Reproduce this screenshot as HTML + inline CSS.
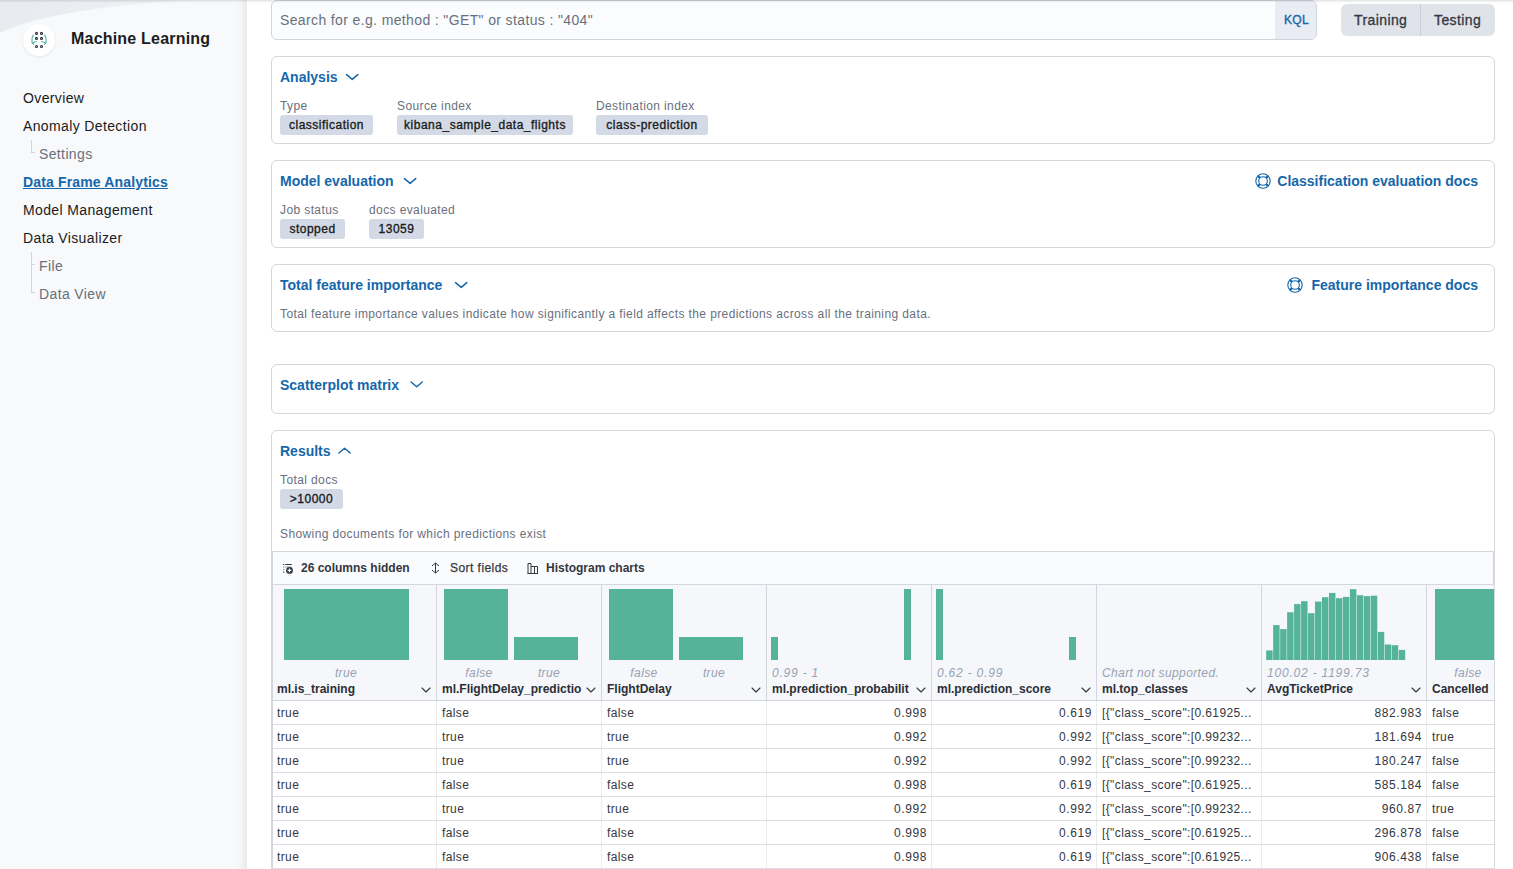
<!DOCTYPE html><html><head><meta charset="utf-8"><style>
*{box-sizing:border-box;margin:0;padding:0}
html,body{width:1513px;height:869px;overflow:hidden;background:#fff;font-family:"Liberation Sans",sans-serif;color:#343741}
.abs{position:absolute}
#side{position:absolute;left:0;top:0;width:247px;height:869px;background:#f8f9fb;overflow:hidden}
.nav{position:absolute;left:23px;font-size:14px;letter-spacing:.37px;color:#1a1c21;white-space:nowrap;line-height:16px}
.nav.sub{left:39px;color:#69707d}
.nav.sel{color:#1667aa;font-weight:700;text-decoration:underline;letter-spacing:.15px}
.tree{position:absolute;left:31px;width:4px;border-left:1px solid #d0d4db}
.panel{position:absolute;left:271px;width:1224px;border:1px solid #d3d7de;border-radius:6px;background:#fff}
.ptitle{position:absolute;left:280px;font-size:14px;font-weight:700;color:#1667aa;white-space:nowrap;line-height:16px}
.chev{position:absolute}
.lbl{position:absolute;font-size:12px;color:#69707d;white-space:nowrap;letter-spacing:.39px;line-height:14px}
.badge{position:absolute;height:20px;background:#d3dae6;border-radius:3px;font-size:12px;font-weight:400;color:#1a1c21;line-height:20px;padding:0;text-align:center;white-space:nowrap;letter-spacing:.5px;-webkit-text-stroke:.35px #1a1c21}
.doc{position:absolute;font-size:14px;font-weight:700;color:#1667aa;white-space:nowrap;line-height:16px}
.cell{position:absolute;font-size:12px;line-height:14px;white-space:nowrap;letter-spacing:.39px;color:#343741;overflow:hidden}
.hname{position:absolute;font-size:12px;line-height:14px;font-weight:700;white-space:nowrap;color:#2b2e36;overflow:hidden}
.hlab{position:absolute;font-size:12px;line-height:14px;font-style:italic;white-space:nowrap;color:#98a2b3;letter-spacing:.39px}
.vl{position:absolute;width:1px;background:#d3d6dd}
.hl{position:absolute;height:1px;background:#d3d6dd}
.bar{position:absolute;background:#54b399}
</style></head><body>
<div id="side">
<svg class="abs" style="left:0;top:0" width="247" height="40"><defs><linearGradient id="tg" x1="0" y1="0" x2="1" y2="0"><stop offset="0" stop-color="#e8eaf0"/><stop offset="1" stop-color="#f1f2f6"/></linearGradient></defs><path d="M0 0 H200 Q60 6 0 32.5 Z" fill="url(#tg)"/></svg>
<div class="abs" style="right:0;top:0;width:12px;height:869px;background:linear-gradient(to right,rgba(0,0,0,0),rgba(0,0,0,0.015) 50%,rgba(0,0,0,0.065))"></div>
<div class="abs" style="left:23px;top:24px;width:32px;height:32px;border-radius:50%;background:#fff;box-shadow:0 1px 3px rgba(0,0,0,.08)"></div>
<svg class="abs" style="left:27px;top:28px" width="24" height="24" viewBox="0 0 24 24"><g fill="#fff" stroke="#343741" stroke-width="1.1"><circle cx="9.5" cy="5.4" r="1"/><circle cx="14.5" cy="5.4" r="1"/><circle cx="9.5" cy="10.4" r="1"/><circle cx="14.5" cy="10.4" r="1"/><circle cx="9.5" cy="18.5" r="1"/><circle cx="14.5" cy="18.5" r="1"/></g><g fill="none" stroke="#4fb3a6" stroke-width="1.1" stroke-linecap="round"><path d="M6.5 7.3 Q5 8.5 5 11 L5 14.5 L6.5 16.4"/><path d="M5.5 14.8 Q7.5 14.5 9.3 13.4"/><path d="M17.5 7.3 Q19 8.5 19 11 L19 14.5 L17.5 16.4"/><path d="M18.5 14.8 Q16.5 14.5 14.7 13.4"/></g></svg>
<div class="abs" style="left:71px;top:30px;font-size:16px;font-weight:700;color:#1a1c21;white-space:nowrap;letter-spacing:.2px;line-height:18px">Machine Learning</div>
<div class="nav" style="top:90px">Overview</div>
<div class="nav" style="top:118px">Anomaly Detection</div>
<div class="tree" style="top:140px;height:13px;border-bottom:1px solid #d0d4db"></div>
<div class="nav sub" style="top:146px">Settings</div>
<div class="nav sel" style="top:174px">Data Frame Analytics</div>
<div class="nav" style="top:202px">Model Management</div>
<div class="nav" style="top:230px">Data Visualizer</div>
<div class="tree" style="top:252px;height:41px;border-bottom:1px solid #d0d4db"></div>
<div class="hl" style="left:32px;top:264px;width:3px"></div>
<div class="nav sub" style="top:258px">File</div>
<div class="nav sub" style="top:286px">Data View</div>
</div>
<div class="abs" style="left:0;top:0;width:1513px;height:3px;background:linear-gradient(rgba(20,25,40,.13),rgba(20,25,40,.03) 66%,rgba(20,25,40,0));z-index:5"></div>
<div class="abs" style="left:271px;top:0;width:1046px;height:40px;border:1px solid #d0d4dc;border-radius:6px;background:#fbfcfd;overflow:hidden"><div class="abs" style="right:0;top:0;width:41px;height:40px;background:#e9edf3"></div></div>
<div class="abs" style="left:280px;top:12px;font-size:14px;line-height:16px;letter-spacing:.37px;color:#69707d;white-space:nowrap">Search for e.g. method : "GET" or status : "404"</div>
<div class="abs" style="left:1284px;top:13px;font-size:12px;line-height:14px;font-weight:400;letter-spacing:.3px;color:#1667aa;-webkit-text-stroke:.4px #1667aa">KQL</div>
<div class="abs" style="left:1341px;top:4px;width:154px;height:32px;border-radius:6px;background:#e0e3e9"></div>
<div class="vl" style="left:1420px;top:4px;height:32px;background:#c9ced8"></div>
<div class="abs" style="left:1354px;top:12px;font-size:14px;line-height:16px;letter-spacing:.4px;color:#343741;-webkit-text-stroke:.3px #343741">Training</div>
<div class="abs" style="left:1434px;top:12px;font-size:14px;line-height:16px;letter-spacing:.4px;color:#343741;-webkit-text-stroke:.3px #343741">Testing</div>
<div class="panel" style="top:56px;height:88px"></div>
<div class="ptitle" style="top:69px">Analysis</div>
<svg class="chev" style="left:344px;top:72px" width="16" height="10"><path d="M2.60 2.60 L8.20 7.40 L13.80 2.60" fill="none" stroke="#1667aa" stroke-width="1.5" stroke-linecap="round" stroke-linejoin="round"/></svg>
<div class="lbl" style="left:280px;top:99px">Type</div>
<div class="lbl" style="left:397px;top:99px">Source index</div>
<div class="lbl" style="left:596px;top:99px">Destination index</div>
<div class="badge" style="left:280px;top:115px;width:93px">classification</div>
<div class="badge" style="left:397px;top:115px;width:176px">kibana_sample_data_flights</div>
<div class="badge" style="left:596px;top:115px;width:112px">class-prediction</div>
<div class="panel" style="top:160px;height:88px"></div>
<div class="ptitle" style="top:173px">Model evaluation</div>
<svg class="chev" style="left:402px;top:176px" width="16" height="10"><path d="M2.50 2.60 L8.10 7.40 L13.70 2.60" fill="none" stroke="#1667aa" stroke-width="1.5" stroke-linecap="round" stroke-linejoin="round"/></svg>
<svg class="abs" style="left:1255px;top:173px" width="16" height="16" viewBox="0 0 16 16"><circle cx="8" cy="8" r="7.2" fill="none" stroke="#1667aa" stroke-width="1.1"/><circle cx="8" cy="8" r="4.3" fill="none" stroke="#1667aa" stroke-width="1.1"/><path d="M5.00 5.00L2.70 2.70M5.00 11.00L2.70 13.30M11.00 5.00L13.30 2.70M11.00 11.00L13.30 13.30" stroke="#1667aa" stroke-width="2.3"/></svg>
<div class="doc" style="right:35px;top:173px">Classification evaluation docs</div>
<div class="lbl" style="left:280px;top:203px">Job status</div>
<div class="lbl" style="left:369px;top:203px">docs evaluated</div>
<div class="badge" style="left:280px;top:219px;width:65px">stopped</div>
<div class="badge" style="left:369px;top:219px;width:55px">13059</div>
<div class="panel" style="top:264px;height:68px"></div>
<div class="ptitle" style="top:277px">Total feature importance</div>
<svg class="chev" style="left:453px;top:280px" width="16" height="10"><path d="M2.60 2.60 L8.20 7.40 L13.80 2.60" fill="none" stroke="#1667aa" stroke-width="1.5" stroke-linecap="round" stroke-linejoin="round"/></svg>
<svg class="abs" style="left:1287px;top:277px" width="16" height="16" viewBox="0 0 16 16"><circle cx="8" cy="8" r="7.2" fill="none" stroke="#1667aa" stroke-width="1.1"/><circle cx="8" cy="8" r="4.3" fill="none" stroke="#1667aa" stroke-width="1.1"/><path d="M5.00 5.00L2.70 2.70M5.00 11.00L2.70 13.30M11.00 5.00L13.30 2.70M11.00 11.00L13.30 13.30" stroke="#1667aa" stroke-width="2.3"/></svg>
<div class="doc" style="right:35px;top:277px">Feature importance docs</div>
<div class="lbl" style="left:280px;top:307px">Total feature importance values indicate how significantly a field affects the predictions across all the training data.</div>
<div class="panel" style="top:364px;height:50px"></div>
<div class="ptitle" style="top:377px">Scatterplot matrix</div>
<svg class="chev" style="left:409px;top:380px" width="16" height="10"><path d="M2.10 2.00 L7.70 6.80 L13.30 2.00" fill="none" stroke="#1667aa" stroke-width="1.5" stroke-linecap="round" stroke-linejoin="round"/></svg>
<div class="panel" style="top:430px;height:460px"></div>
<div class="ptitle" style="top:443px">Results</div>
<svg class="chev" style="left:337px;top:446px" width="16" height="10"><path d="M2.00 7.00 L7.60 2.20 L13.20 7.00" fill="none" stroke="#1667aa" stroke-width="1.5" stroke-linecap="round" stroke-linejoin="round"/></svg>
<div class="lbl" style="left:280px;top:473px">Total docs</div>
<div class="badge" style="left:280px;top:489px;width:63px">&gt;10000</div>
<div class="lbl" style="left:280px;top:527px">Showing documents for which predictions exist</div>
<div class="abs" style="left:272px;top:551px;width:1222px;height:34px;background:#fafbfd;border-top:1px solid #d3d6dd;border-bottom:1px solid #d3d6dd;border-right:1px solid #d3d6dd"></div>
<div class="abs" style="left:272px;top:585px;width:1222px;height:115px;background:#f5f7fa"></div>
<div class="hl" style="left:272px;top:700px;width:1222px"></div>
<svg class="abs" style="left:282px;top:562px" width="12" height="13" viewBox="0 0 12 13"><g fill="#343741"><rect x="1" y="2" width="1.3" height="1"/><rect x="1" y="4.5" width="1.3" height="1" opacity=".6"/><rect x="1" y="7" width="1.3" height="1" opacity=".6"/><rect x="1" y="9.5" width="1.3" height="1"/><rect x="3.3" y="2" width="6.5" height="1"/><rect x="3.3" y="4.5" width="6.5" height="1" opacity=".45"/></g><circle cx="7.5" cy="8.4" r="3.4" fill="#343741"/><path d="M7.5 6.6v3.6M5.7 8.4h3.6" stroke="#fff" stroke-width="1.1"/></svg>
<div class="abs" style="left:301px;top:561px;font-size:12px;line-height:14px;font-weight:700;color:#343741;white-space:nowrap">26 columns hidden</div>
<svg class="abs" style="left:431px;top:562px" width="9" height="12" viewBox="0 0 9 12"><path d="M1 4 L4.5 1 L8 4 M1 8 L4.5 11 L8 8 M4.5 1 V11" fill="none" stroke="#343741" stroke-width="1"/></svg>
<div class="abs" style="left:450px;top:561px;font-size:12px;line-height:14px;letter-spacing:.45px;color:#343741;white-space:nowrap;-webkit-text-stroke:.25px #343741">Sort fields</div>
<svg class="abs" style="left:527px;top:562px" width="12" height="13" viewBox="0 0 12 13"><path d="M0.5 11.5 H11 M1 1.5 V11.5 M1 1.5 H4 V11.5 M4 4.5 H7.5 V11.5 M7.5 4.5 H10.5 V11.5" fill="none" stroke="#343741" stroke-width="1"/></svg>
<div class="abs" style="left:546px;top:561px;font-size:12px;line-height:14px;font-weight:700;color:#343741;white-space:nowrap">Histogram charts</div>
<div class="abs" style="left:272px;top:585px;width:1222px;height:284px;overflow:hidden">
<div class="vl" style="left:164px;top:116px;height:168px;background:#e9ebef"></div>
<div class="vl" style="left:164px;top:0;height:115px"></div>
<div class="bar" style="left:12.0px;top:4.0px;width:125.0px;height:71.0px"></div>
<div class="hlab" style="left:44px;width:60px;text-align:center;top:81px">true</div>
<div class="hname" style="left:5px;top:97px;width:150px">ml.is_training</div>
<svg class="chev" style="left:149px;top:102px" width="10" height="6" viewBox="0 0 10 6"><path d="M1 1 L5.0 5 L9 1" fill="none" stroke="#343741" stroke-width="1.1" stroke-linecap="round" stroke-linejoin="round"/></svg>
<div class="vl" style="left:329px;top:116px;height:168px;background:#e9ebef"></div>
<div class="vl" style="left:329px;top:0;height:115px"></div>
<div class="bar" style="left:172.0px;top:4.0px;width:63.5px;height:71.0px"></div>
<div class="bar" style="left:242.0px;top:52.0px;width:63.5px;height:23.0px"></div>
<div class="hlab" style="left:177px;width:60px;text-align:center;top:81px">false</div>
<div class="hlab" style="left:247px;width:60px;text-align:center;top:81px">true</div>
<div class="hname" style="left:170px;top:97px;width:150px">ml.FlightDelay_predictio</div>
<svg class="chev" style="left:314px;top:102px" width="10" height="6" viewBox="0 0 10 6"><path d="M1 1 L5.0 5 L9 1" fill="none" stroke="#343741" stroke-width="1.1" stroke-linecap="round" stroke-linejoin="round"/></svg>
<div class="vl" style="left:494px;top:116px;height:168px;background:#e9ebef"></div>
<div class="vl" style="left:494px;top:0;height:115px"></div>
<div class="bar" style="left:337.0px;top:4.0px;width:63.5px;height:71.0px"></div>
<div class="bar" style="left:407.0px;top:52.0px;width:63.5px;height:23.0px"></div>
<div class="hlab" style="left:342px;width:60px;text-align:center;top:81px">false</div>
<div class="hlab" style="left:412px;width:60px;text-align:center;top:81px">true</div>
<div class="hname" style="left:335px;top:97px;width:150px">FlightDelay</div>
<svg class="chev" style="left:479px;top:102px" width="10" height="6" viewBox="0 0 10 6"><path d="M1 1 L5.0 5 L9 1" fill="none" stroke="#343741" stroke-width="1.1" stroke-linecap="round" stroke-linejoin="round"/></svg>
<div class="vl" style="left:659px;top:116px;height:168px;background:#e9ebef"></div>
<div class="vl" style="left:659px;top:0;height:115px"></div>
<div class="bar" style="left:499.0px;top:52.0px;width:6.5px;height:23.0px"></div>
<div class="bar" style="left:632.0px;top:4.0px;width:6.5px;height:71.0px"></div>
<div class="hlab" style="left:500px;top:81px;letter-spacing:.8px">0.99 - 1</div>
<div class="hname" style="left:500px;top:97px;width:150px">ml.prediction_probabilit</div>
<svg class="chev" style="left:644px;top:102px" width="10" height="6" viewBox="0 0 10 6"><path d="M1 1 L5.0 5 L9 1" fill="none" stroke="#343741" stroke-width="1.1" stroke-linecap="round" stroke-linejoin="round"/></svg>
<div class="vl" style="left:824px;top:116px;height:168px;background:#e9ebef"></div>
<div class="vl" style="left:824px;top:0;height:115px"></div>
<div class="bar" style="left:664.0px;top:4.0px;width:6.5px;height:71.0px"></div>
<div class="bar" style="left:797.0px;top:52.0px;width:6.5px;height:23.0px"></div>
<div class="hlab" style="left:665px;top:81px;letter-spacing:.8px">0.62 - 0.99</div>
<div class="hname" style="left:665px;top:97px;width:150px">ml.prediction_score</div>
<svg class="chev" style="left:809px;top:102px" width="10" height="6" viewBox="0 0 10 6"><path d="M1 1 L5.0 5 L9 1" fill="none" stroke="#343741" stroke-width="1.1" stroke-linecap="round" stroke-linejoin="round"/></svg>
<div class="vl" style="left:989px;top:116px;height:168px;background:#e9ebef"></div>
<div class="vl" style="left:989px;top:0;height:115px"></div>
<div class="hlab" style="left:830px;top:81px;letter-spacing:.39px">Chart not supported.</div>
<div class="hname" style="left:830px;top:97px;width:150px">ml.top_classes</div>
<svg class="chev" style="left:974px;top:102px" width="10" height="6" viewBox="0 0 10 6"><path d="M1 1 L5.0 5 L9 1" fill="none" stroke="#343741" stroke-width="1.1" stroke-linecap="round" stroke-linejoin="round"/></svg>
<div class="vl" style="left:1154px;top:116px;height:168px;background:#e9ebef"></div>
<div class="vl" style="left:1154px;top:0;height:115px"></div>
<div class="hlab" style="left:995px;top:81px;letter-spacing:.8px">100.02 - 1199.73</div>
<svg class="abs" style="left:984px;top:0" width="150" height="80"><rect x="10.20" y="65.40" width="6.45" height="9.60" fill="#54b399"/><rect x="17.17" y="40.10" width="6.45" height="34.90" fill="#54b399"/><rect x="24.15" y="44.10" width="6.45" height="30.90" fill="#54b399"/><rect x="31.12" y="27.30" width="6.45" height="47.70" fill="#54b399"/><rect x="38.10" y="19.10" width="6.45" height="55.90" fill="#54b399"/><rect x="45.08" y="16.20" width="6.45" height="58.80" fill="#54b399"/><rect x="52.05" y="28.20" width="6.45" height="46.80" fill="#54b399"/><rect x="59.03" y="16.60" width="6.45" height="58.40" fill="#54b399"/><rect x="66.00" y="12.20" width="6.45" height="62.80" fill="#54b399"/><rect x="72.98" y="7.90" width="6.45" height="67.10" fill="#54b399"/><rect x="79.95" y="13.20" width="6.45" height="61.80" fill="#54b399"/><rect x="86.92" y="11.90" width="6.45" height="63.10" fill="#54b399"/><rect x="93.90" y="4.20" width="6.45" height="70.80" fill="#54b399"/><rect x="100.88" y="10.20" width="6.45" height="64.80" fill="#54b399"/><rect x="107.85" y="11.10" width="6.45" height="63.90" fill="#54b399"/><rect x="114.83" y="10.70" width="6.45" height="64.30" fill="#54b399"/><rect x="121.80" y="46.90" width="6.45" height="28.10" fill="#54b399"/><rect x="128.78" y="59.50" width="6.45" height="15.50" fill="#54b399"/><rect x="135.75" y="60.20" width="6.45" height="14.80" fill="#54b399"/><rect x="142.73" y="64.90" width="6.45" height="10.10" fill="#54b399"/></svg>
<div class="hname" style="left:995px;top:97px;width:150px">AvgTicketPrice</div>
<svg class="chev" style="left:1139px;top:102px" width="10" height="6" viewBox="0 0 10 6"><path d="M1 1 L5.0 5 L9 1" fill="none" stroke="#343741" stroke-width="1.1" stroke-linecap="round" stroke-linejoin="round"/></svg>
<div class="bar" style="left:1162.7px;top:4.0px;width:59.3px;height:71.0px"></div>
<div class="hlab" style="left:1166px;width:60px;text-align:center;top:81px">false</div>
<div class="hname" style="left:1160px;top:97px;width:70px">Cancelled</div>
<div class="hl" style="left:0;top:139px;width:1222px;background:#dadce2"></div>
<div class="cell" style="left:5px;width:155px;top:121px">true</div>
<div class="cell" style="left:170px;width:155px;top:121px">false</div>
<div class="cell" style="left:335px;width:155px;top:121px">false</div>
<div class="cell" style="left:495px;width:160px;text-align:right;top:121px;letter-spacing:.6px">0.998</div>
<div class="cell" style="left:660px;width:160px;text-align:right;top:121px;letter-spacing:.6px">0.619</div>
<div class="cell" style="left:830px;width:155px;top:121px">[{"class_score":[0.61925...</div>
<div class="cell" style="left:990px;width:160px;text-align:right;top:121px;letter-spacing:.6px">882.983</div>
<div class="cell" style="left:1160px;width:155px;top:121px">false</div>
<div class="hl" style="left:0;top:163px;width:1222px;background:#dadce2"></div>
<div class="cell" style="left:5px;width:155px;top:145px">true</div>
<div class="cell" style="left:170px;width:155px;top:145px">true</div>
<div class="cell" style="left:335px;width:155px;top:145px">true</div>
<div class="cell" style="left:495px;width:160px;text-align:right;top:145px;letter-spacing:.6px">0.992</div>
<div class="cell" style="left:660px;width:160px;text-align:right;top:145px;letter-spacing:.6px">0.992</div>
<div class="cell" style="left:830px;width:155px;top:145px">[{"class_score":[0.99232...</div>
<div class="cell" style="left:990px;width:160px;text-align:right;top:145px;letter-spacing:.6px">181.694</div>
<div class="cell" style="left:1160px;width:155px;top:145px">true</div>
<div class="hl" style="left:0;top:187px;width:1222px;background:#dadce2"></div>
<div class="cell" style="left:5px;width:155px;top:169px">true</div>
<div class="cell" style="left:170px;width:155px;top:169px">true</div>
<div class="cell" style="left:335px;width:155px;top:169px">true</div>
<div class="cell" style="left:495px;width:160px;text-align:right;top:169px;letter-spacing:.6px">0.992</div>
<div class="cell" style="left:660px;width:160px;text-align:right;top:169px;letter-spacing:.6px">0.992</div>
<div class="cell" style="left:830px;width:155px;top:169px">[{"class_score":[0.99232...</div>
<div class="cell" style="left:990px;width:160px;text-align:right;top:169px;letter-spacing:.6px">180.247</div>
<div class="cell" style="left:1160px;width:155px;top:169px">false</div>
<div class="hl" style="left:0;top:211px;width:1222px;background:#dadce2"></div>
<div class="cell" style="left:5px;width:155px;top:193px">true</div>
<div class="cell" style="left:170px;width:155px;top:193px">false</div>
<div class="cell" style="left:335px;width:155px;top:193px">false</div>
<div class="cell" style="left:495px;width:160px;text-align:right;top:193px;letter-spacing:.6px">0.998</div>
<div class="cell" style="left:660px;width:160px;text-align:right;top:193px;letter-spacing:.6px">0.619</div>
<div class="cell" style="left:830px;width:155px;top:193px">[{"class_score":[0.61925...</div>
<div class="cell" style="left:990px;width:160px;text-align:right;top:193px;letter-spacing:.6px">585.184</div>
<div class="cell" style="left:1160px;width:155px;top:193px">false</div>
<div class="hl" style="left:0;top:235px;width:1222px;background:#dadce2"></div>
<div class="cell" style="left:5px;width:155px;top:217px">true</div>
<div class="cell" style="left:170px;width:155px;top:217px">true</div>
<div class="cell" style="left:335px;width:155px;top:217px">true</div>
<div class="cell" style="left:495px;width:160px;text-align:right;top:217px;letter-spacing:.6px">0.992</div>
<div class="cell" style="left:660px;width:160px;text-align:right;top:217px;letter-spacing:.6px">0.992</div>
<div class="cell" style="left:830px;width:155px;top:217px">[{"class_score":[0.99232...</div>
<div class="cell" style="left:990px;width:160px;text-align:right;top:217px;letter-spacing:.6px">960.87</div>
<div class="cell" style="left:1160px;width:155px;top:217px">true</div>
<div class="hl" style="left:0;top:259px;width:1222px;background:#dadce2"></div>
<div class="cell" style="left:5px;width:155px;top:241px">true</div>
<div class="cell" style="left:170px;width:155px;top:241px">false</div>
<div class="cell" style="left:335px;width:155px;top:241px">false</div>
<div class="cell" style="left:495px;width:160px;text-align:right;top:241px;letter-spacing:.6px">0.998</div>
<div class="cell" style="left:660px;width:160px;text-align:right;top:241px;letter-spacing:.6px">0.619</div>
<div class="cell" style="left:830px;width:155px;top:241px">[{"class_score":[0.61925...</div>
<div class="cell" style="left:990px;width:160px;text-align:right;top:241px;letter-spacing:.6px">296.878</div>
<div class="cell" style="left:1160px;width:155px;top:241px">false</div>
<div class="hl" style="left:0;top:283px;width:1222px;background:#dadce2"></div>
<div class="cell" style="left:5px;width:155px;top:265px">true</div>
<div class="cell" style="left:170px;width:155px;top:265px">false</div>
<div class="cell" style="left:335px;width:155px;top:265px">false</div>
<div class="cell" style="left:495px;width:160px;text-align:right;top:265px;letter-spacing:.6px">0.998</div>
<div class="cell" style="left:660px;width:160px;text-align:right;top:265px;letter-spacing:.6px">0.619</div>
<div class="cell" style="left:830px;width:155px;top:265px">[{"class_score":[0.61925...</div>
<div class="cell" style="left:990px;width:160px;text-align:right;top:265px;letter-spacing:.6px">906.438</div>
<div class="cell" style="left:1160px;width:155px;top:265px">false</div>
</div>
<div class="vl" style="left:272px;top:551px;height:318px"></div>
</body></html>
